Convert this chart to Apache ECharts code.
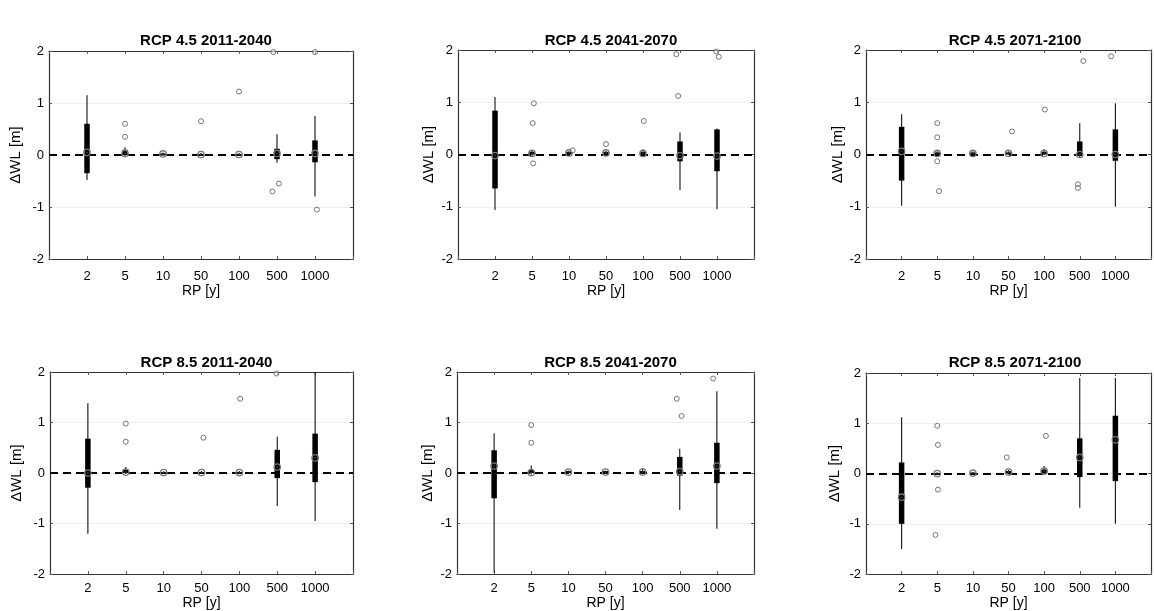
<!DOCTYPE html>
<html>
<head>
<meta charset="utf-8">
<script src="https://cdn.jsdelivr.net/npm/echarts@6/dist/echarts.min.js"></script>
<style>
html,body{margin:0;padding:0;background:#fff;}
#c{width:1154px;height:611px;}
</style>
</head>
<body>
<div id="c"></div>
<script>
// Return-period categories (x tick labels)
const RP = ['2', '5', '10', '50', '100', '500', '1000'];
const Y_TICKS = [-2, -1, 0, 1, 2];
const TITLES = ['RCP 4.5 2011-2040', 'RCP 4.5 2041-2070', 'RCP 4.5 2071-2100',
                'RCP 8.5 2011-2040', 'RCP 8.5 2041-2070', 'RCP 8.5 2071-2100'];

// Box data per RP: [lowerWhisker, q1, median, q3, upperWhisker]
const p1Box = [[-0.48,-0.35,0.05,0.60,1.15],[-0.02,0.00,0.03,0.10,0.15],[-0.01,0.00,0.02,0.03,0.05],
               [-0.01,0.00,0.01,0.02,0.04],[-0.01,0.00,0.01,0.02,0.04],[-0.15,-0.08,0.03,0.12,0.40],
               [-0.80,-0.14,0.03,0.28,0.75]];
const p2Box = [[-1.06,-0.65,-0.02,0.84,1.10],[-0.03,0.00,0.02,0.05,0.08],[-0.01,0.00,0.03,0.05,0.06],
               [-0.01,0.00,0.03,0.05,0.07],[-0.01,0.00,0.02,0.05,0.10],[-0.68,-0.13,-0.02,0.25,0.42],
               [-1.05,-0.32,-0.03,0.48,0.50]];
const p3Box = [[-0.98,-0.50,0.06,0.53,0.77],[-0.03,-0.01,0.02,0.04,0.06],[-0.01,0.00,0.02,0.04,0.06],
               [-0.01,0.00,0.02,0.04,0.06],[-0.01,0.00,0.02,0.05,0.10],[-0.05,-0.03,0.00,0.25,0.60],
               [-1.00,-0.12,0.00,0.48,0.98]];
const p4Box = [[-1.20,-0.29,0.00,0.68,1.38],[-0.02,0.00,0.02,0.06,0.12],[-0.01,0.00,0.01,0.02,0.03],
               [-0.01,0.00,0.01,0.02,0.04],[-0.01,0.00,0.01,0.02,0.04],[-0.65,-0.10,0.12,0.46,0.72],
               [-0.95,-0.18,0.30,0.78,2.00]];
const p5Box = [[-1.97,-0.50,0.14,0.45,0.79],[-0.03,0.00,0.01,0.06,0.15],[-0.01,0.00,0.02,0.04,0.05],
               [-0.01,0.00,0.02,0.04,0.05],[-0.01,0.00,0.02,0.04,0.10],[-0.73,-0.05,0.03,0.32,0.48],
               [-1.10,-0.20,0.14,0.60,1.62]];
const p6Box = [[-1.50,-1.00,-0.47,0.22,1.12],[-0.02,-0.01,0.00,0.01,0.02],[-0.01,0.00,0.01,0.02,0.03],
               [-0.01,0.00,0.03,0.05,0.07],[-0.01,0.00,0.05,0.08,0.15],[-0.68,-0.07,0.32,0.70,1.90],
               [-1.00,-0.15,0.67,1.15,1.90]];

// Outliers: [RP position (1..7, with slight plotted jitter), value]
const p1Out = [[2,0.60],[2,0.35],[4,0.65],[5,1.22],[5.9,1.98],[5.88,-0.70],[6.05,-0.55],[7,1.98],[7.05,-1.05]];
const p2Out = [[2.05,0.98],[2.02,0.60],[2.03,-0.17],[3.1,0.08],[4,0.20],[5.02,0.64],[5.9,1.92],[5.95,1.12],[6.98,1.97],[7.05,1.87]];
const p3Out = [[2,0.60],[2,0.33],[2,-0.13],[2.05,-0.70],[4.1,0.44],[5.02,0.86],[6.1,1.79],[5.95,-0.57],[5.95,-0.64],[6.88,1.88]];
const p4Out = [[2,0.98],[2,0.62],[4.05,0.70],[5.02,1.47],[5.98,1.97]];
const p5Out = [[2,0.95],[2,0.60],[5.92,1.47],[6.05,1.13],[6.9,1.87]];
const p6Out = [[2,0.95],[2.02,0.57],[2.02,-0.32],[1.95,-1.22],[3.95,0.32],[5.05,0.75]];

const BOXES = [p1Box, p2Box, p3Box, p4Box, p5Box, p6Box];
const OUTS = [p1Out, p2Out, p3Out, p4Out, p5Out, p6Out];

// Layout (pixels)
const GRIDS = [
  {left: 49,  top: 51,  width: 304, height: 208},
  {left: 458, top: 50,  width: 296, height: 209},
  {left: 866, top: 50,  width: 292, height: 209},
  {left: 50,  top: 372, width: 303, height: 210},
  {left: 457, top: 372, width: 297, height: 210},
  {left: 866, top: 373, width: 292, height: 209}
];
const YNAME_GAP = [26, 22, 20, 26, 22, 24];
const TXT = '#000';
const FONT = 'Liberation Sans, Arial, sans-serif';

function renderBox(params, api) {
  const x = api.value(0);
  const lo = api.coord([x, api.value(1)]);
  const q1 = api.coord([x, api.value(2)]);
  const md = api.coord([x, api.value(3)]);
  const q3 = api.coord([x, api.value(4)]);
  const hi = api.coord([x, api.value(5)]);
  const h = Math.max(q1[1] - q3[1], 2);
  return {
    type: 'group',
    children: [
      {type: 'line', shape: {x1: lo[0], y1: lo[1], x2: hi[0], y2: hi[1]},
       style: {stroke: '#111', lineWidth: 1.1}},
      {type: 'rect', shape: {x: q3[0] - 2.75, y: q3[1], width: 5.5, height: h},
       style: {fill: '#000'}},
      {type: 'circle', shape: {cx: md[0], cy: md[1], r: 3.2},
       style: {fill: 'none', stroke: '#777', lineWidth: 1.3}},
      {type: 'circle', shape: {cx: md[0], cy: md[1], r: 1},
       style: {fill: '#333'}}
    ]
  };
}

const grid = [], xAxis = [], yAxis = [], series = [], title = [];
GRIDS.forEach((g, i) => {
  const bottomRow = i >= 3;
  grid.push(Object.assign({containLabel: false}, g));
  title.push({
    text: TITLES[i], left: g.left + g.width / 2 - (i % 3 === 2 ? 2 : 0), top: bottomRow ? 350 : 28,
    textAlign: 'center',
    textStyle: {fontFamily: FONT, fontSize: 15, fontWeight: 'bold', color: TXT}
  });
  // bottom x axis
  xAxis.push({
    gridIndex: i, type: 'value', min: 0, max: 8, interval: 1, position: 'bottom',
    name: 'RP [y]', nameLocation: 'middle', nameGap: bottomRow ? 18 : 19,
    nameTextStyle: {fontFamily: FONT, fontSize: 14, color: TXT},
    axisLine: {show: true, onZero: false, lineStyle: {color: '#333', width: 1.2}},
    axisTick: {show: true, inside: true, length: 3, lineStyle: {color: '#555'}},
    axisLabel: {show: true, margin: bottomRow ? 8 : 11, fontFamily: FONT, fontSize: 13, color: TXT,
      formatter: v => (v >= 1 && v <= RP.length) ? RP[v - 1] : ''},
    splitLine: {show: false}
  });
  // top x axis (frame)
  xAxis.push({
    gridIndex: i, type: 'value', min: 0, max: 8, interval: 1, position: 'top',
    axisLine: {show: true, onZero: false, lineStyle: {color: '#333', width: 1.2}},
    axisTick: {show: true, inside: true, length: 3, lineStyle: {color: '#555'}},
    axisLabel: {show: false}, splitLine: {show: false}
  });
  yAxis.push({
    gridIndex: i, type: 'value', min: Y_TICKS[0], max: Y_TICKS[Y_TICKS.length - 1], interval: 1, position: 'left',
    name: 'ΔWL [m]', nameLocation: 'middle', nameGap: YNAME_GAP[i], nameRotate: 90,
    nameTextStyle: {fontFamily: FONT, fontSize: 15, color: TXT},
    axisLine: {show: true, onZero: false, lineStyle: {color: '#333', width: 1.2}},
    axisTick: {show: true, inside: true, length: 3, lineStyle: {color: '#555'}},
    axisLabel: {show: true, margin: 5, fontFamily: FONT, fontSize: 13, color: TXT},
    splitLine: {show: true, lineStyle: {color: '#efefef', width: 1}}
  });
  yAxis.push({
    gridIndex: i, type: 'value', min: -2, max: 2, interval: 1, position: 'right',
    axisLine: {show: true, onZero: false, lineStyle: {color: '#333', width: 1.2}},
    axisTick: {show: true, inside: true, length: 3, lineStyle: {color: '#555'}},
    axisLabel: {show: false}, splitLine: {show: false}
  });
  series.push({
    type: 'custom', xAxisIndex: 2 * i, yAxisIndex: 2 * i, z: 3,
    renderItem: renderBox, encode: {x: 0, y: [1, 2, 3, 4, 5]},
    data: BOXES[i].map((r, k) => [k + 1].concat(r)),
    markLine: {
      silent: true, symbol: 'none', z: 2, animation: false,
      label: {show: false},
      lineStyle: {type: [8, 5], width: 2, color: '#000'},
      data: [{yAxis: 0}]
    }
  });
  series.push({
    type: 'scatter', xAxisIndex: 2 * i, yAxisIndex: 2 * i, z: 4,
    symbol: 'circle', symbolSize: 5,
    itemStyle: {color: 'rgba(255,255,255,0.6)', borderColor: '#555', borderWidth: 1},
    data: OUTS[i]
  });
});

const chart = echarts.init(document.getElementById('c'), null, {renderer: 'canvas'});
chart.setOption({animation: false, backgroundColor: '#fff', title, grid, xAxis, yAxis, series});
</script>
</body>
</html>
